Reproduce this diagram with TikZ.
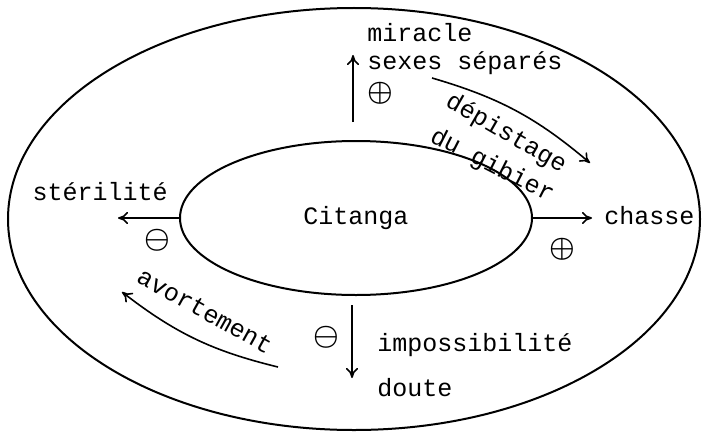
\documentclass[tikz,border=0pt]{standalone}
\usepackage{fontspec}
\setmainfont{Liberation Mono}
\usepackage{tikz}
\usetikzlibrary{shapes.geometric,arrows.meta,calc}

\tikzset{
  ring/.style={draw, ellipse, line width=1pt, inner sep=0pt},
  word/.style={font=\fontsize{12.5}{15}\selectfont, inner sep=1pt},
  sign/.style={font=\fontsize{15}{17}\selectfont\boldmath, inner sep=0pt},
  link/.style={-{To[length=5pt,width=6pt]}, line width=0.8pt},
}

\begin{document}
\begin{tikzpicture}[x=0.5pt, y=-0.5pt]
        \useasboundingbox (0,0) rectangle (705,433);

        % Outer and inner rings
        \node[ring, minimum width=346pt, minimum height=211pt] (world) at (354,219) {};
        \node[ring, word, minimum width=176pt, minimum height=77pt] (citanga) at (356,218) {Citanga};

        % Free ends of the arrows
        \coordinate (upS) at (353,122);
        \coordinate (upE) at (353,55);
        \coordinate (leftE) at (118,218);
        \coordinate (rightE) at (592,218);
        \coordinate (downS) at (352,305);
        \coordinate (downE) at (352,378);
        \coordinate (huntS) at (432,78);
        \coordinate (huntE) at (590,163);
        \coordinate (abortS) at (278,367);
        \coordinate (abortE) at (122,292);

        % Arrows
        \draw[link] (upS) -- (upE);
        \draw[link] (citanga.west) -- (leftE);
        \draw[link] (citanga.east) -- (rightE);
        \draw[link] (downS) -- (downE);
        \draw[link] (huntS) to[bend left=12] (huntE);
        \draw[link] (abortS) to[bend left=12] (abortE);

        % Labels
        \node[word, anchor=west] (miracle) at (365,33) {miracle};
        \node[word, anchor=west] (sexes) at (365,63) {sexes séparés};
        \node[word, anchor=east] (sterilite) at (170,192) {stérilité};
        \node[word, anchor=west] (chasse) at (602,216) {chasse};
        \node[word, anchor=west] (impossible) at (375,345) {impossibilité};
        \node[word, anchor=west] (doute) at (375,388) {doute};
        \node[word, rotate=-30, inner sep=0pt] (depistage) at (506,134) {dépistage};
        \node[word, rotate=-27, inner sep=0pt] (gibier) at (492,166) {du gibier};
        \node[word, rotate=-29] (avortement) at (205,311) {avortement};

        % Signs
        \node[sign] (plusTop) at (380,93) {$\oplus$};
        \node[sign] (minusLeft) at (157,240) {$\ominus$};
        \node[sign] (plusRight) at (562,249) {$\oplus$};
        \node[sign] (minusBottom) at (326,337) {$\ominus$};

      \end{tikzpicture}
\end{document}
